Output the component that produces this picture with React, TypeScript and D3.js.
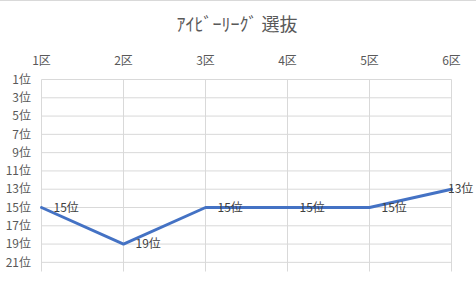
import React from "react";
import * as d3 from "d3";

const title = "ｱｲﾋﾞｰﾘｰｸﾞ 選抜";
const categories = ["1区", "2区", "3区", "4区", "5区", "6区"];
const ranks = [15, 19, 15, 15, 15, 13];
const yTicks = [1, 3, 5, 7, 9, 11, 13, 15, 17, 19, 21];

const W = 476;
const H = 288;
const FONT = "'Noto Sans CJK JP', 'Noto Sans', sans-serif";

export default function App() {
  const x = d3.scalePoint<string>().domain(categories).range([41.5, 451.5]);
  const y = d3.scaleLinear().domain([1, 22]).range([79.5, 271.5]);
  const line = d3
    .line<number>()
    .x((_, i) => x(categories[i]) as number)
    .y((d) => y(d));

  return (
    <div style={{ position: "fixed", left: 0, top: 0 }}>
      <svg width={W} height={H} style={{ display: "block", background: "#fff" }}>
        <line x1={0} x2={W} y1={0.5} y2={0.5} stroke="#D9D9D9" strokeWidth={1} />
        <text
          x={237}
          y={31}
          textAnchor="middle"
          fontFamily={FONT}
          fontSize={18}
          fill="#595959"
        >
          {title}
        </text>
        {yTicks.map((t) => (
          <line
            key={"h" + t}
            x1={x(categories[0])}
            x2={x(categories[categories.length - 1])}
            y1={y(t)}
            y2={y(t)}
            stroke="#D9D9D9"
            strokeWidth={1}
          />
        ))}
        {categories.map((c) => (
          <line
            key={"v" + c}
            x1={x(c)}
            x2={x(c)}
            y1={y(1)}
            y2={y(22)}
            stroke="#D9D9D9"
            strokeWidth={1}
          />
        ))}
        {categories.map((c) => (
          <text
            key={"c" + c}
            x={x(c)}
            y={65}
            textAnchor="middle"
            fontFamily={FONT}
            fontSize={12}
            fill="#595959"
          >
            {c}
          </text>
        ))}
        {yTicks.map((t) => (
          <text
            key={"t" + t}
            x={31}
            y={y(t)}
            dy="0.35em"
            textAnchor="end"
            fontFamily={FONT}
            fontSize={12}
            fill="#595959"
          >
            {t + "位"}
          </text>
        ))}
        <path
          d={line(ranks) || ""}
          fill="none"
          stroke="#4472C4"
          strokeWidth={3}
          strokeLinejoin="round"
          strokeLinecap="round"
        />
        {ranks.map((r, i) => {
          const px = x(categories[i]) as number;
          const lx = Math.min(px + 12, 448);
          return (
            <text
              key={"l" + i}
              x={lx}
              y={y(r)}
              dy="0.35em"
              fontFamily={FONT}
              fontSize={12}
              fill="#404040"
            >
              {r + "位"}
            </text>
          );
        })}
      </svg>
    </div>
  );
}
